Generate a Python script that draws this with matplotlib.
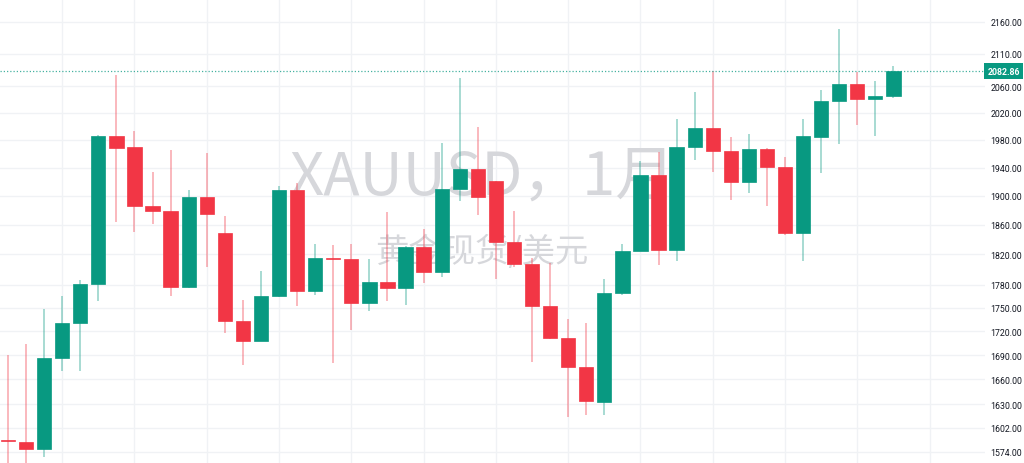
import matplotlib
matplotlib.use("Agg")
import matplotlib.pyplot as plt
from matplotlib.ticker import NullLocator, FixedLocator, FixedFormatter
import numpy as np
import pandas as pd

# Monthly XAUUSD candles, Feb 2020 .. Mar 2024
months = [str(p) for p in pd.period_range("2020-02", "2024-03", freq="M")]

opens = [1588, 1585, 1577, 1686, 1730, 1781, 1985, 1969, 1886, 1879,
         1776.5, 1899, 1848.5, 1733, 1707, 1764.5, 1908, 1771, 1815, 1814,
         1756, 1783, 1775, 1829.5, 1797, 1910, 1938, 1920.6, 1837, 1807,
         1752.6, 1711, 1675, 1633, 1769, 1824, 1929.5, 1826, 1969.3, 1997,
         1963.5, 1920, 1967, 1941.4, 1849, 1984.7, 2037.5, 2063.6, 2040.5, 2045.5]
highs = [1690, 1704, 1748, 1765.5, 1786.4, 1987, 2077, 1993.5, 1934, 1966,
         1908, 1960.6, 1872, 1760, 1798, 1913.6, 1918, 1834, 1832.5, 1834,
         1814, 1877.7, 1831, 1854.3, 1975, 2072.3, 1999.3, 1921.5, 1879.5, 1814.8,
         1808.5, 1735.5, 1730, 1787.3, 1834, 1950.2, 1962, 2010.7, 2050.6, 2083.5,
         1983.8, 1988.6, 1967.8, 1954.8, 2010.7, 2054.1, 2148.4, 2081, 2067.3, 2090.2]
lows = [1548, 1452, 1567.5, 1670.7, 1670.7, 1759, 1864.3, 1849.8, 1861.2, 1765,
        1776, 1802.8, 1718, 1677.4, 1707, 1764, 1751.5, 1766.8, 1679.8, 1721.9,
        1746, 1759, 1753.9, 1781.7, 1789.6, 1892.5, 1873.9, 1787.3, 1803.6, 1681,
        1710, 1615, 1617, 1616.5, 1766.8, 1824, 1806.2, 1810.5, 1951.4, 1933.4,
        1894.3, 1904.1, 1886.4, 1846.6, 1811.5, 1932.4, 1974.1, 2002.3, 1985.3, 2041.6]
closes = [1586, 1577, 1686, 1730, 1780.8, 1985.3, 1968.7, 1885.6, 1879.1, 1776.5,
          1899.2, 1874.9, 1733.3, 1707.2, 1764.5, 1907.9, 1771.2, 1814.8, 1814, 1755.8,
          1783.1, 1775.1, 1829.5, 1796.9, 1909.7, 1938.1, 1898.1, 1837.1, 1807.2, 1752.6,
          1711, 1674.9, 1633.3, 1768.7, 1824.1, 1929.5, 1826.3, 1970.1, 1997, 1963.5,
          1920, 1966.8, 1940.5, 1848.9, 1985.3, 2037.5, 2063.6, 2040.5, 2045.5, 2082.86]

ytick_values = [1574, 1602, 1630, 1660, 1690, 1720, 1750, 1780, 1820, 1860,
                1900, 1940, 1980, 2020, 2060, 2110, 2160]
ytick_labels = [f"{v:.2f}" for v in ytick_values]
last_price = 2082.86
title_text = "XAUUSD，1月"
subtitle_text = "黄金现货/美元"

GREEN = "#089981"
RED = "#F23645"
GRID = "#F0F2F5"

W, H = 1024, 464
fig = plt.figure(figsize=(W / 100, H / 100), dpi=100)
fig.patch.set_facecolor("white")
right_px = 985
ax = fig.add_axes([0, 0, right_px / W, 1])
ax.set_facecolor("white")

x = np.arange(len(months))
o = np.array(opens); c = np.array(closes); h = np.array(highs); l = np.array(lows)
up = c >= o
body_col = [GREEN if u else RED for u in up]

ax.set_yscale("log")
ax.set_ylim(1560.9, 2196.4)
px_step = 18.07
ax.set_xlim(-8 / px_step, (right_px - 8) / px_step)

# grid
ax.yaxis.set_major_locator(FixedLocator(ytick_values))
ax.yaxis.set_major_formatter(FixedFormatter(ytick_labels))
ax.yaxis.set_minor_locator(NullLocator())
ax.set_xticks(np.arange(3, 53, 4))
ax.grid(True, color=GRID, lw=1.0, zorder=0)
ax.set_axisbelow(True)
ax.yaxis.tick_right()
ax.tick_params(axis="y", which="both", length=0, pad=4, labelsize=6.3,
               labelcolor="#131722")
for t in ax.get_yticklabels():
    t.set_fontfamily(["Roboto", "DejaVu Sans"])
ax.tick_params(axis="x", length=0, labelbottom=False)
for s in ax.spines.values():
    s.set_visible(False)

# watermark
ax.text(483 / W, 1 - 178 / H, title_text, transform=fig.transFigure,
        ha="center", va="center", fontsize=43, color="#D6D7DB",
        family=["Noto Sans CJK SC", "DejaVu Sans"], zorder=1)
ax.text(482 / W, 1 - 253 / H, subtitle_text, transform=fig.transFigure,
        ha="center", va="center", fontsize=24, color="#D6D7DB",
        family=["Noto Sans CJK SC", "DejaVu Sans"], zorder=1)

# wicks
wick_col = [(0.031, 0.6, 0.506, 0.45) if u else (0.949, 0.212, 0.271, 0.45) for u in up]
ax.vlines(x, l, h, colors=wick_col, linewidth=1.1, zorder=2)

# bodies
bottoms = np.minimum(o, c)
heights = np.maximum(np.abs(c - o), 0.6)
ax.bar(x, heights, bottom=bottoms, width=0.79, color=body_col,
       edgecolor=body_col, linewidth=0.5, zorder=3)

# last price line + label
ax.axhline(last_price, color=GREEN, lw=0.9, ls=(0, (1, 1.6)), alpha=0.75, zorder=2)
ylast = ax.transData.transform((0, last_price))[1]
yfig = ylast / fig.dpi / fig.get_size_inches()[1]
fig.text(1003.5 / W, yfig, f"{last_price:.2f}", ha="center", va="center",
         fontsize=6.3, color="white", fontweight="bold",
         family=["Roboto", "DejaVu Sans"],
         bbox=dict(boxstyle="square,pad=0.4", fc=GREEN, ec="none"))

fig.savefig("out.png", dpi=100, facecolor="white")
